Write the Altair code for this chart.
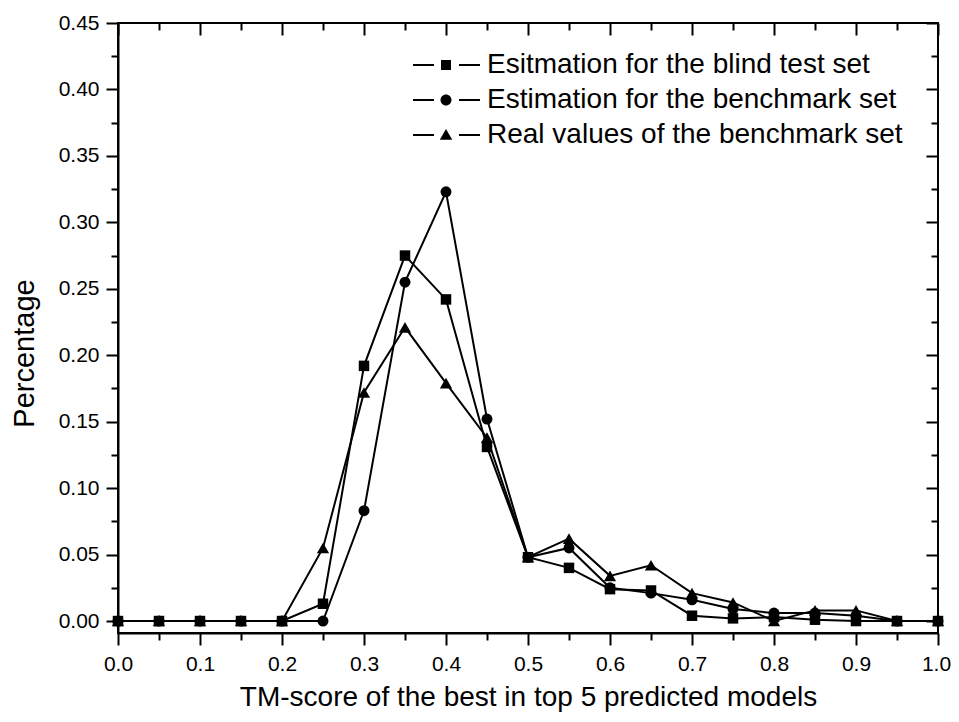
import altair as alt
import pandas as pd

tm_score = [0.0, 0.05, 0.1, 0.15, 0.2, 0.25, 0.3, 0.35, 0.4, 0.45, 0.5,
            0.55, 0.6, 0.65, 0.7, 0.75, 0.8, 0.85, 0.9, 0.95, 1.0]
blind_est = [0, 0, 0, 0, 0, 0.013, 0.192, 0.275, 0.242, 0.131, 0.048,
             0.040, 0.024, 0.023, 0.004, 0.002, 0.003, 0.001, 0.0, 0, 0]
bench_est = [0, 0, 0, 0, 0, 0.0, 0.083, 0.255, 0.323, 0.152, 0.048,
             0.055, 0.025, 0.021, 0.016, 0.009, 0.006, 0.006, 0.004, 0, 0]
bench_real = [0, 0, 0, 0, 0, 0.055, 0.172, 0.221, 0.179, 0.138, 0.048,
              0.062, 0.034, 0.042, 0.021, 0.014, 0.0, 0.008, 0.008, 0, 0]

series_names = ["Esitmation for the blind test set",
                "Estimation for the benchmark set",
                "Real values of the benchmark set"]
series_values = [blind_est, bench_est, bench_real]
series_shapes = ["square", "circle", "triangle-up"]
marker_sizes = [110, 120, 150]

x_major = [0.0, 0.1, 0.2, 0.3, 0.4, 0.5, 0.6, 0.7, 0.8, 0.9, 1.0]
x_minor = [0.05, 0.15, 0.25, 0.35, 0.45, 0.55, 0.65, 0.75, 0.85, 0.95]
y_major = [0.0, 0.05, 0.1, 0.15, 0.2, 0.25, 0.3, 0.35, 0.4, 0.45]
y_minor = [0.025, 0.075, 0.125, 0.175, 0.225, 0.275, 0.325, 0.375, 0.425]

rows = []
for name, vals in zip(series_names, series_values):
    for xv, yv in zip(tm_score, vals):
        rows.append({"x": xv, "y": yv, "series": name})
df = pd.DataFrame(rows)

FONT = "Liberation Sans"
xs = alt.Scale(domain=[0, 1], nice=False, zero=False)
ys = alt.Scale(domain=[-0.009, 0.45], nice=False, zero=False)

x_ticks_all = sorted(x_major + x_minor)
y_ticks_all = sorted(y_major + y_minor)

x_axis_main = alt.Axis(
    values=x_ticks_all,
    labelExpr="round(datum.value*100) % 10 == 0 ? format(datum.value, '.1f') : ''",
    tickSize={"condition": {"test": "round(datum.value*100) % 10 == 0", "value": 12}, "value": 7},
    labelOffset={"condition": {"test": "datum.value >= 0.999", "value": -2}, "value": 0},
    title="TM-score of the best in top 5 predicted models",
    titlePadding=9,
    titleFontSize=28,
    labelPadding=8,
    labelFlush=False,
)
y_axis_main = alt.Axis(
    values=y_ticks_all,
    labelExpr="round(datum.value*1000) % 50 == 0 ? format(datum.value, '.2f') : ''",
    tickSize={"condition": {"test": "round(datum.value*1000) % 50 == 0", "value": 12}, "value": 7},
    title="Percentage",
    titleFontSize=29,
    titlePadding=19,
    titleY=330,
    labelPadding=7,
)

def sym(marker):
    dashes = "M-6.6,-0.2H-2.4V0.2H-6.6Z M2.6,-0.2H6.8V0.2H2.6Z "
    return dashes + marker

sq = "M-1,-1H1V1H-1Z"
ci = "M-1.1,0A1.1,1.1,0,1,0,1.1,0A1.1,1.1,0,1,0,-1.1,0Z"
tr = "M0,-1.2L1.25,0.95L-1.25,0.95Z"
legend_shapes = [sym(sq), sym(ci), sym(tr)]

legend = alt.Legend(
    title=None,
    orient="none",
    legendX=314,
    legendY=28,
    padding=0,
    labelFont=FONT,
    labelFontSize=28,
    labelColor="black",
    labelOffset=27,
    symbolSize=100,
    symbolFillColor="black",
    symbolStrokeWidth=0,
    symbolOpacity=1,
    rowPadding=7,
    labelLimit=700,
)

lines = alt.Chart(df).mark_line(color="black", strokeWidth=2).encode(
    x=alt.X("x:Q", scale=xs, axis=x_axis_main),
    y=alt.Y("y:Q", scale=ys, axis=y_axis_main),
    detail="series:N",
)

point_layers = []
for name, shp, sz in zip(series_names, series_shapes, marker_sizes):
    point_layers.append(
        alt.Chart(df).transform_filter(alt.datum.series == name)
        .mark_point(filled=True, color="black", size=sz, opacity=1, shape=shp)
        .encode(x=alt.X("x:Q", scale=xs, axis=None), y=alt.Y("y:Q", scale=ys, axis=None))
    )

legend_layer = alt.Chart(df).transform_filter("false").mark_point(
    filled=True, color="black", size=100, opacity=1
).encode(
    x=alt.X("x:Q", scale=xs, axis=None),
    y=alt.Y("y:Q", scale=ys, axis=None),
    shape=alt.Shape("series:N", scale=alt.Scale(domain=series_names, range=legend_shapes),
                    legend=legend),
)

def tick_layer(channel, values, size, orient):
    ax = alt.Axis(orient=orient, values=values, tickSize=size, offset=-size,
                  labels=False, domain=False, title=None, grid=False)
    if channel == "x":
        enc = dict(x=alt.X("x:Q", scale=xs, axis=ax), y=alt.Y("y:Q", scale=ys, axis=None))
    else:
        enc = dict(x=alt.X("x:Q", scale=xs, axis=None), y=alt.Y("y:Q", scale=ys, axis=ax))
    return alt.Chart(df).mark_point(opacity=0).encode(**enc)

chart = alt.layer(
    lines, *point_layers, legend_layer,
    tick_layer("x", x_major, 12, "top"),
    tick_layer("x", x_minor, 7, "top"),
    tick_layer("y", y_major, 12, "right"),
    tick_layer("y", y_minor, 7, "right"),
).resolve_axis(x="independent", y="independent").properties(
    width=820, height=610,
    autosize=alt.AutoSizeParams(type="none"),
    padding={"left": 110, "top": 15, "right": 13, "bottom": 81},
    background="white",
).configure_view(
    stroke="black", strokeWidth=2
).configure_axis(
    labelFont=FONT, labelFontSize=21, labelColor="black",
    titleFont=FONT, titleFontWeight="normal", titleColor="black",
    tickColor="black", tickWidth=2, domainColor="black", domainWidth=2, grid=False,
)

chart.save("out.html", embed_options={"renderer": "svg", "actions": False})
